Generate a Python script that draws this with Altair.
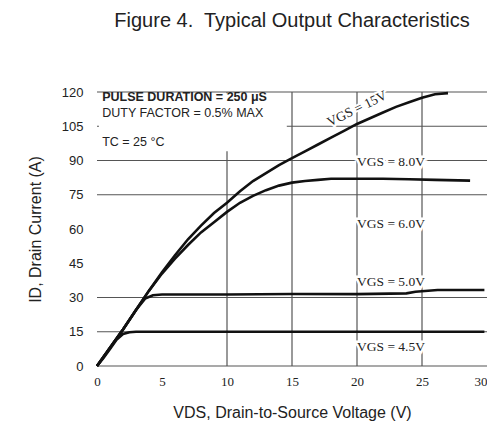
import altair as alt
import pandas as pd

# ---- data ----
vds_15 = [0, 1, 2, 3, 4, 5, 6, 7, 8, 9, 10, 11, 12, 13, 14, 15, 16, 17, 18, 19, 20, 21, 22, 23, 24, 25, 26, 27]
id_15 = [0, 8, 16, 24.5, 33, 41, 48.5, 55.5, 61.5, 67, 71.5, 76.5, 81, 84.5, 88, 91, 94, 97, 100, 103, 106,
         108.5, 111, 113.5, 115.5, 117.5, 119, 119.5]

vds_8 = [0, 1, 2, 3, 4, 5, 6, 7, 8, 9, 10, 11, 12, 13, 14, 15, 16, 17, 18, 20, 22, 24, 26, 28.7]
id_8 = [0, 8, 16, 24.5, 33, 40.5, 47, 53, 58.5, 63, 67.5, 71.5, 74.5, 77, 79, 80.3, 81, 81.5, 82, 82, 82, 81.8,
        81.5, 81.2]

vds_5 = [0, 1, 2, 3, 3.7, 4.3, 5, 10, 15, 20, 23.8, 24.5, 26.2, 29.8]
id_5 = [0, 8, 16, 24.5, 29.5, 31, 31.3, 31.3, 31.5, 31.5, 31.8, 32.5, 33.3, 33.3]

vds_45 = [0, 0.5, 1, 1.5, 2, 2.5, 3, 10, 20, 29.8]
id_45 = [0, 3.5, 7.5, 11.5, 14, 14.8, 15, 15, 15, 15]

x_ticks = [0, 5, 10, 15, 20, 25, 30]
y_ticks = [0, 15, 30, 45, 60, 75, 90, 105, 120]
x_grid = [10, 15, 20, 25]
y_grid = [0, 15, 30, 75, 90, 105, 120]

curve_labels = ["VGS = 8.0V", "VGS = 6.0V", "VGS = 5.0V", "VGS = 4.5V"]
curve_label_x = [20, 20, 20, 20]
curve_label_y = [89.5, 62, 36.8, 8.3]

rot_label = ["VGS = 15V"]
rot_label_x = [20]
rot_label_y = [112.6]

note_lines = ["PULSE DURATION = 250 μS", "DUTY FACTOR = 0.5% MAX", "TC = 25 °C"]
note_weight = ["bold", "normal", "normal"]
note_x = [0.4, 0.4, 0.4]
note_y = [117.8, 110.8, 98.1]
note_box = {"x": [0.15], "x2": [14.6], "y": [94.0], "y2": [119.4]}

# ---- tables ----
rows = []
for name, xs_, ys_ in [("15V", vds_15, id_15), ("8V", vds_8, id_8), ("5V", vds_5, id_5), ("4.5V", vds_45, id_45)]:
    for i, (a, b) in enumerate(zip(xs_, ys_)):
        rows.append({"series": name, "i": i, "vds": a, "id": b})
curves = pd.DataFrame(rows)

xs = alt.Scale(domain=[0, 30], nice=False)
ys = alt.Scale(domain=[0, 120], nice=False)

x_axis = alt.Axis(values=x_ticks, grid=False, domain=False, ticks=False, labelFont="Liberation Serif",
                  labelFontSize=13, labelPadding=9, labelColor="#222",
                  labelAlign={"condition": {"test": "datum.value === 30", "value": "right"}, "value": "center"},
                  title="VDS, Drain-to-Source Voltage (V)", titleFont="Liberation Sans", titleFontSize=16,
                  titleFontWeight="normal", titleColor="#222", titleX=195, titleY=46,
                  titleBaseline="middle", titleAnchor="middle")
y_axis = alt.Axis(values=y_ticks, grid=False, domain=False, ticks=False, labelFont="Liberation Sans",
                  labelFontSize=13, labelPadding=14, labelColor="#222",
                  title="ID, Drain Current (A)", titleFont="Liberation Sans", titleFontSize=16,
                  titleFontWeight="normal", titleColor="#222", titleX=-62, titleY=137,
                  titleAngle=270, titleBaseline="middle", titleAlign="center")


def X(field):
    return alt.X(field, scale=xs, axis=x_axis)


def Y(field):
    return alt.Y(field, scale=ys, axis=y_axis)


vgrid = alt.Chart(pd.DataFrame({"vds": x_grid})).mark_rule(color="#555", strokeWidth=1.2).encode(x=X("vds:Q"))
hgrid = alt.Chart(pd.DataFrame({"id": y_grid})).mark_rule(color="#555", strokeWidth=1.2).encode(y=Y("id:Q"))

box_df = pd.DataFrame({"vds": note_box["x"], "vds2": note_box["x2"], "id": note_box["y"], "id2": note_box["y2"]})
box = alt.Chart(box_df).mark_rect(color="white").encode(x=X("vds:Q"), x2="vds2:Q", y=Y("id:Q"), y2="id2:Q")

lines = alt.Chart(curves).mark_line(color="#111", strokeWidth=2.6).encode(
    x=X("vds:Q"), y=Y("id:Q"), detail="series:N", order="i:Q")

lab_df = pd.DataFrame({"t": curve_labels, "vds": curve_label_x, "id": curve_label_y})
lab_halo = alt.Chart(lab_df).mark_text(align="left", baseline="middle", font="Liberation Serif", fontSize=13.5,
                                       stroke="white", strokeWidth=5, color="white").encode(
    x=X("vds:Q"), y=Y("id:Q"), text="t:N")
lab = alt.Chart(lab_df).mark_text(align="left", baseline="middle", font="Liberation Serif", fontSize=13.5,
                                  color="#222").encode(x=X("vds:Q"), y=Y("id:Q"), text="t:N")

rot_df = pd.DataFrame({"t": rot_label, "vds": rot_label_x, "id": rot_label_y})
rot_halo = alt.Chart(rot_df).mark_text(align="center", baseline="middle", font="Liberation Serif", fontSize=13.5,
                                       angle=334, stroke="white", strokeWidth=4, color="white").encode(
    x=X("vds:Q"), y=Y("id:Q"), text="t:N")
rot = alt.Chart(rot_df).mark_text(align="center", baseline="middle", font="Liberation Serif", fontSize=13.5,
                                  angle=334, color="#222").encode(x=X("vds:Q"), y=Y("id:Q"), text="t:N")

note_df = pd.DataFrame({"t": note_lines, "w": note_weight, "vds": note_x, "id": note_y})
note_b = alt.Chart(note_df).transform_filter(alt.datum.w == "bold").mark_text(
    align="left", baseline="middle", font="Liberation Sans", fontSize=12.5, fontWeight="bold", color="#222"
).encode(x=X("vds:Q"), y=Y("id:Q"), text="t:N")
note_n = alt.Chart(note_df).transform_filter(alt.datum.w == "normal").mark_text(
    align="left", baseline="middle", font="Liberation Sans", fontSize=12.5, color="#222"
).encode(x=X("vds:Q"), y=Y("id:Q"), text="t:N")

chart = alt.layer(vgrid, hgrid, box, lines, lab_halo, lab, rot_halo, rot, note_b, note_n).properties(
    width=390, height=274,
    title=alt.TitleParams("Figure 4.\u00a0 Typical Output Characteristics", font="Liberation Sans", fontSize=20,
                          fontWeight="normal", color="#222", anchor="middle", offset=35, baseline="bottom"),
    autosize=alt.AutoSizeParams(type="none"),
    padding={"left": 89, "top": 84, "right": 0, "bottom": 64},
).configure_view(stroke=None)

chart.save("out.html", embed_options={"renderer": "svg", "actions": False})
